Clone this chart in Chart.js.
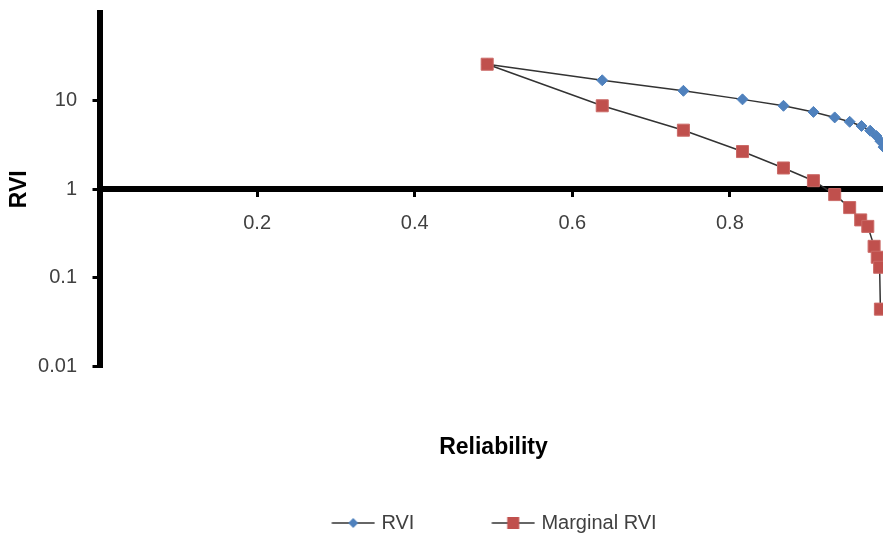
<!DOCTYPE html>
<html>
<head>
<meta charset="utf-8">
<script src="https://cdn.jsdelivr.net/npm/chart.js@4.4.1/dist/chart.umd.min.js"></script>
<style>
    html, body { margin: 0; padding: 0; overflow: hidden; background: #fff; }
    #wrap { width: 897px; height: 538px; }
</style>
</head>
<body>
<div id="wrap"><canvas id="graficaRVI" width="897" height="538"></canvas></div>
<script>
// values
const reliabilityRVI = [0.492, 0.638, 0.741, 0.816, 0.868, 0.906, 0.933, 0.952, 0.967, 0.978, 0.986, 0.991, 0.995];
const valuesRVI = [26.0, 17.1, 13.0, 10.4, 8.8, 7.5, 6.5, 5.8, 5.2, 4.6, 4.0, 3.5, 3.0];
const reliabilityMarginal = [0.492, 0.638, 0.741, 0.816, 0.868, 0.906, 0.933, 0.952, 0.966, 0.975, 0.983, 0.987, 0.990, 0.991];
const valuesMarginal = [26.0, 8.8, 4.66, 2.67, 1.74, 1.25, 0.87, 0.62, 0.45, 0.38, 0.226, 0.17, 0.131, 0.044];
const ticksX = [0, 0.2, 0.4, 0.6, 0.8, 1];
const ticksY = [0.01, 0.1, 1, 10];
const seriesNames = ['RVI', 'Marginal RVI'];

const FONT = "'Liberation Sans', Arial, sans-serif";
const BLUE = '#4F81BD';
const RED = '#C0504D';
const LINE = '#333333';
const TEXT = '#404040';
const ICON_BOX = 107;

function toPoints(xs, ys) {
    return xs.map((x, i) => ({ x: x, y: ys[i] }));
}

// no extra room for half tick labels, the plot area is fixed by hand
function noPadding(s) {
    s.paddingTop = 0;
    s.paddingBottom = 0;
    s.paddingLeft = 0;
    s.paddingRight = 0;
}

// legend swatch: short line with the marker in the middle
function legendIcon(color, shape) {
    const c = document.createElement('canvas');
    c.width = ICON_BOX + 8;
    c.height = 16;
    const g = c.getContext('2d');
    const end = 4 + ICON_BOX + 3.3;
    const start = end - 43;
    const mid = (start + end) / 2;
    g.strokeStyle = LINE;
    g.lineWidth = 1.5;
    g.beginPath();
    g.moveTo(start, 8);
    g.lineTo(end, 8);
    g.stroke();
    g.fillStyle = color;
    g.beginPath();
    if (shape === 'diamond') {
        g.moveTo(mid - 5, 8);
        g.lineTo(mid, 3);
        g.lineTo(mid + 5, 8);
        g.lineTo(mid, 13);
        g.closePath();
    } else {
        g.rect(mid - 6, 2, 12, 12);
    }
    g.fill();
    return c;
}

const moveLegend = {
    id: 'moveLegend',
    afterLayout(chart) {
        const lg = chart.legend;
        const w = lg.right - lg.left;
        lg.left = 254.4;
        lg.right = lg.left + w;
        lg.top += 5;
        lg.bottom += 5;
    }
};

const iconRVI = legendIcon(BLUE, 'diamond');
const iconMarginal = legendIcon(RED, 'square');

const ctx = document.getElementById('graficaRVI').getContext('2d');
const chartRVI = new Chart(ctx, {
    type: 'scatter',
    data: {
        datasets: [
            {
                label: seriesNames[0],
                data: toPoints(reliabilityRVI, valuesRVI),
                showLine: true,
                borderColor: LINE,
                borderWidth: 1.5,
                pointStyle: 'rectRot',
                pointRadius: 5.5,
                pointBackgroundColor: BLUE,
                pointBorderColor: BLUE,
                pointBorderWidth: 1,
                order: 1
            },
            {
                label: seriesNames[1],
                data: toPoints(reliabilityMarginal, valuesMarginal),
                showLine: true,
                borderColor: LINE,
                borderWidth: 1.5,
                pointStyle: 'rect',
                pointRadius: 8.5,
                pointBackgroundColor: RED,
                pointBorderColor: '#CB6A67',
                pointBorderWidth: 1,
                order: 0
            }
        ]
    },
    options: {
        responsive: false,
        animation: false,
        events: [],
        layout: { padding: { top: 12.5, right: 3, left: 0, bottom: 0 } },
        plugins: {
            tooltip: { enabled: false },
            legend: {
                position: 'bottom',
                align: 'start',
                labels: {
                    usePointStyle: true,
                    pointStyleWidth: ICON_BOX,
                    padding: 10,
                    color: TEXT,
                    font: { family: FONT, size: 20 },
                    generateLabels: () => [
                        { text: seriesNames[0], pointStyle: iconRVI, fontColor: TEXT, lineWidth: 0, hidden: false, datasetIndex: 0 },
                        { text: seriesNames[1], pointStyle: iconMarginal, fontColor: TEXT, lineWidth: 0, hidden: false, datasetIndex: 1 }
                    ]
                }
            }
        },
        scales: {
            x: {
                type: 'linear',
                min: 0,
                max: 1,
                position: { y: 1 },
                afterBuildTicks: s => { s.ticks = ticksX.map(v => ({ value: v })); },
                afterFit: noPadding,
                ticks: {
                    font: { family: FONT, size: 20 },
                    color: TEXT,
                    padding: 17,
                    maxRotation: 0,
                    callback: v => v === 0 ? '' : String(v)
                },
                grid: { drawOnChartArea: false, color: '#000', lineWidth: 3, tickLength: 5 },
                border: { display: true, color: '#000', width: 6 }
            },
            xTitle: {
                type: 'linear',
                min: 0,
                max: 1,
                position: 'bottom',
                ticks: { display: false },
                grid: { display: false, drawTicks: false },
                border: { display: false },
                afterFit: s => { noPadding(s); s.height = 132; },
                title: {
                    display: true,
                    text: 'Reliability',
                    color: '#000',
                    font: { family: FONT, size: 23, weight: 'bold' },
                    padding: { top: 0, bottom: 37 }
                }
            },
            y: {
                type: 'logarithmic',
                min: 0.01,
                max: 100,
                position: 'left',
                afterBuildTicks: s => { s.ticks = ticksY.map(v => ({ value: v })); },
                afterFit: s => { noPadding(s); s.width = 99.5; },
                ticks: {
                    font: { family: FONT, size: 20 },
                    color: TEXT,
                    padding: 15.5,
                    callback: v => String(v)
                },
                grid: { drawOnChartArea: false, color: '#000', lineWidth: 3, tickLength: 7 },
                border: { display: true, color: '#000', width: 6 },
                title: {
                    display: true,
                    text: 'RVI',
                    color: '#000',
                    font: { family: FONT, size: 23, weight: 'bold' },
                    padding: { top: 6, bottom: 0 }
                }
            }
        }
    },
    plugins: [moveLegend]
});
</script>
</body>
</html>
